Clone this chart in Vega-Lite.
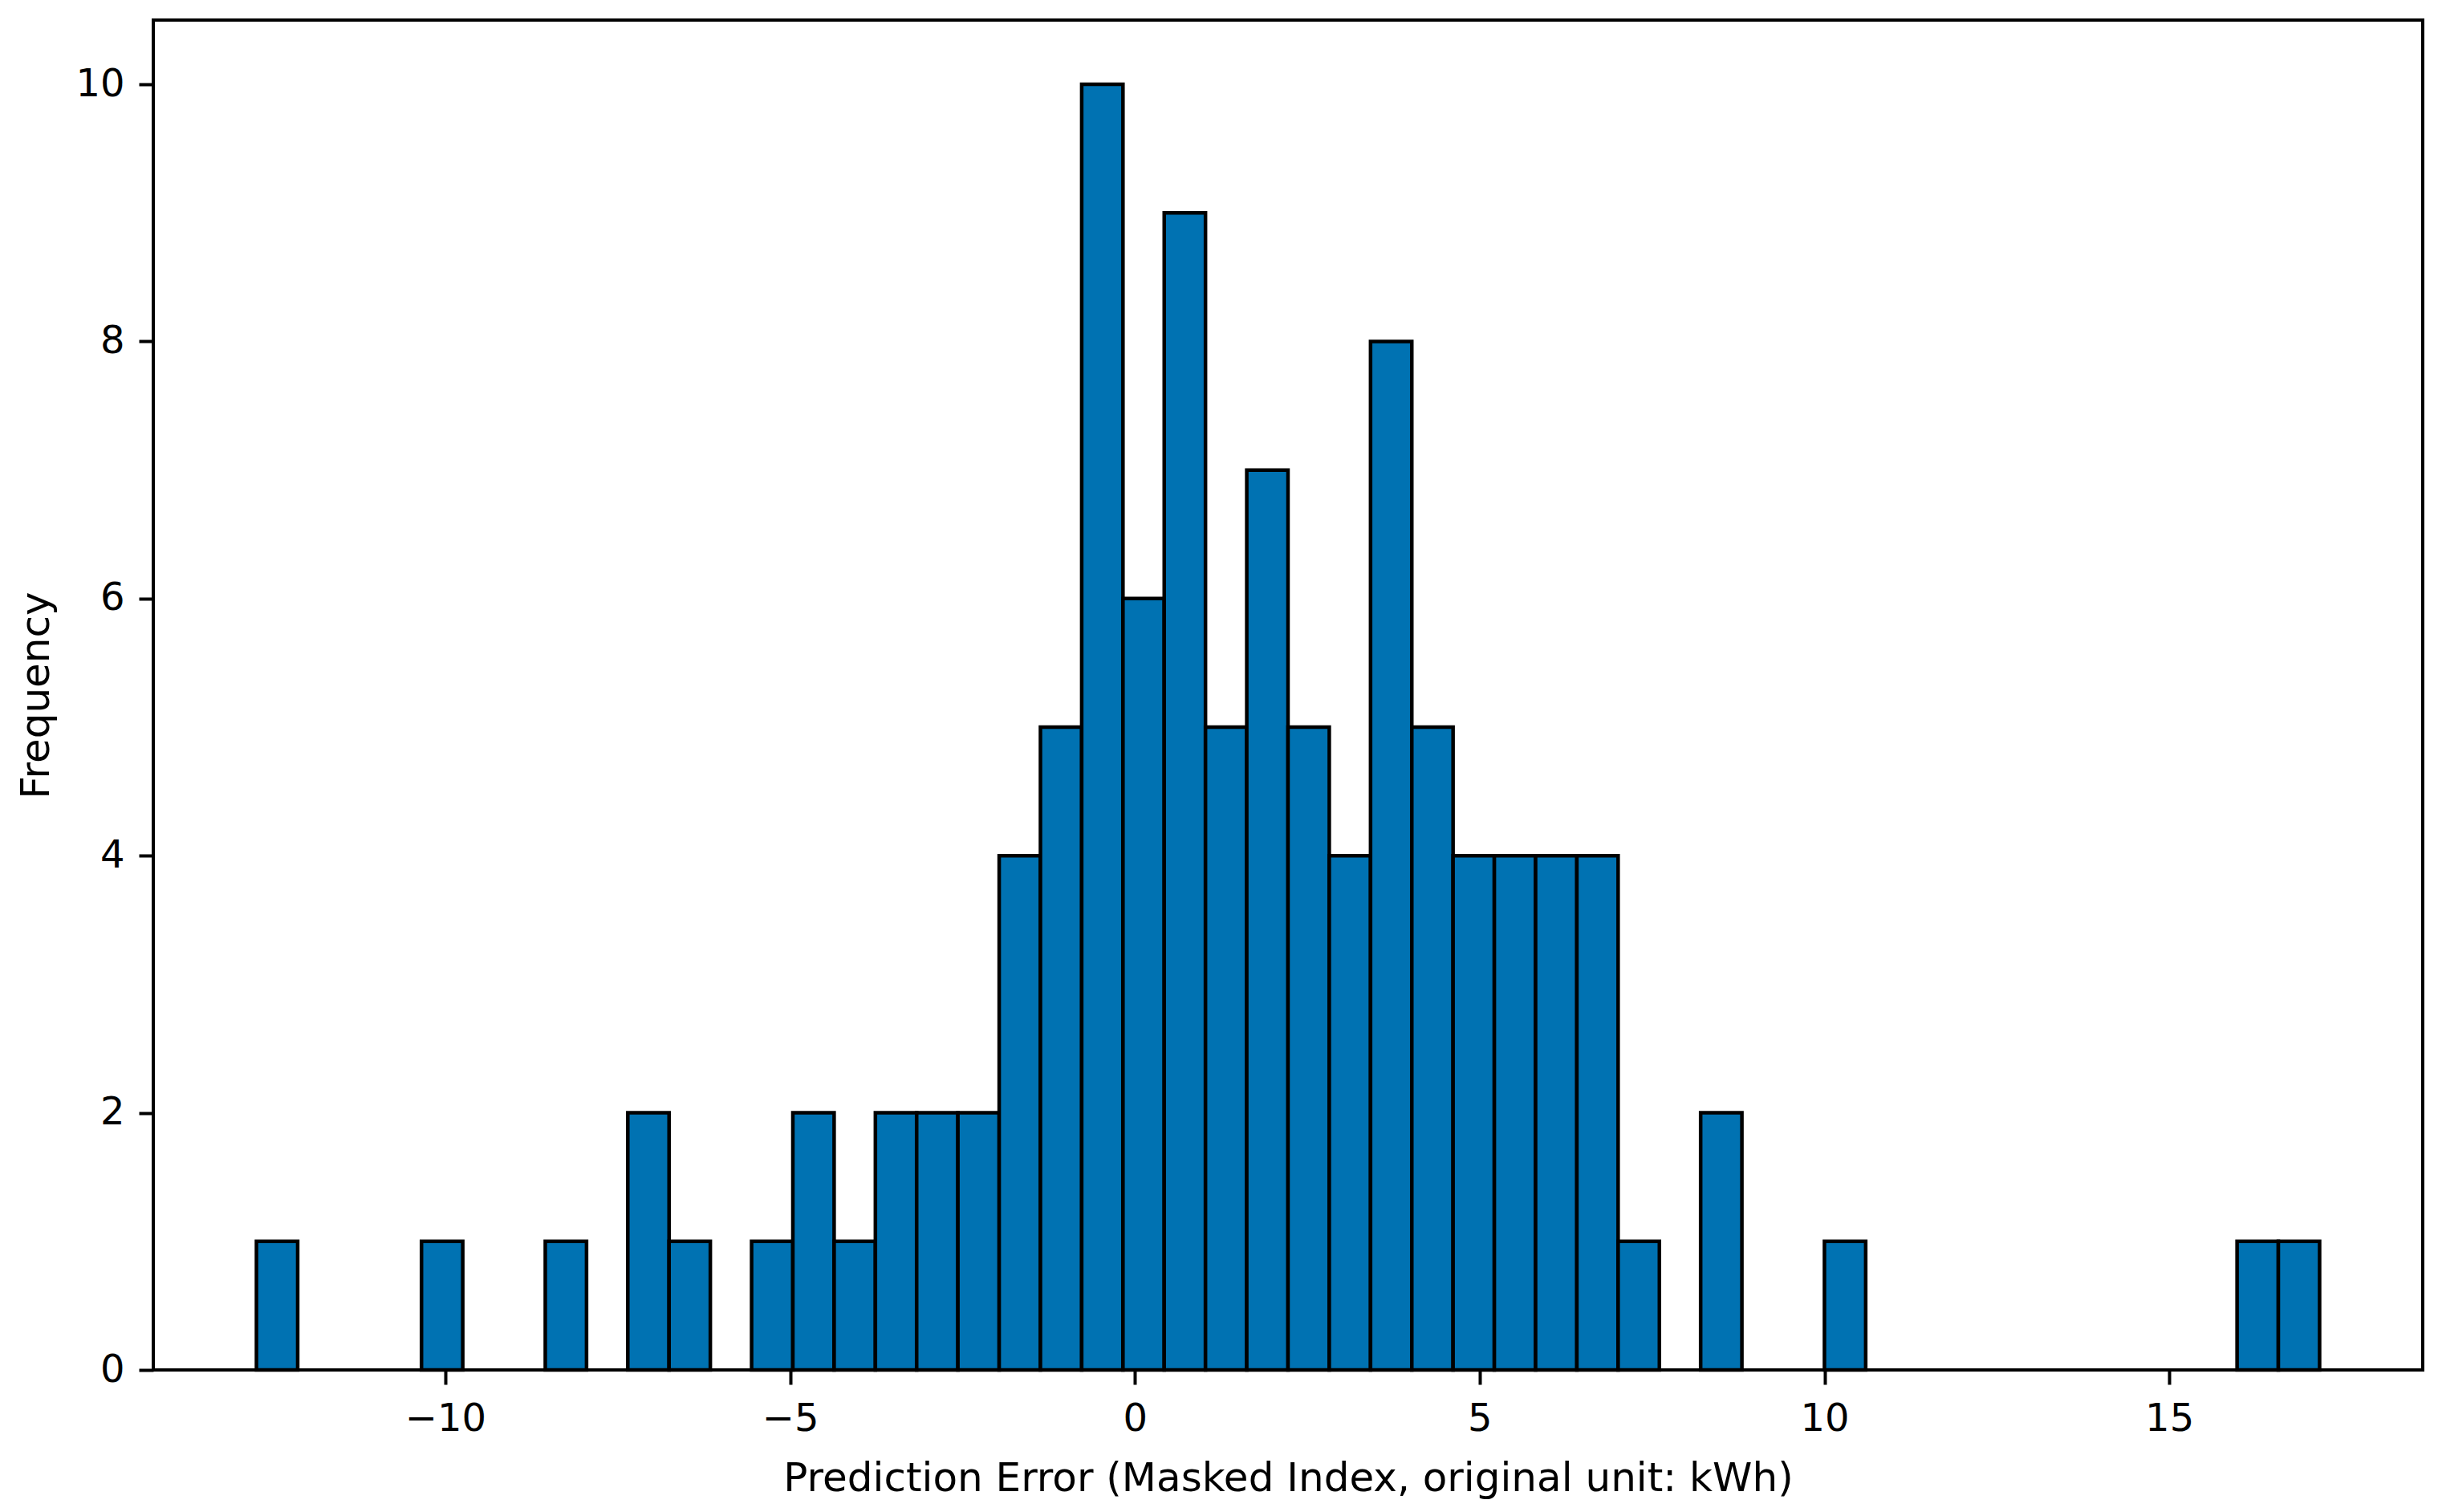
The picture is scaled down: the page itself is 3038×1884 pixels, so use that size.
{
  "$schema": "https://vega.github.io/schema/vega-lite/v6.json",
  "width": 2828,
  "height": 1682,
  "autosize": {"type": "none"},
  "padding": {"left": 191, "top": 25, "right": 19, "bottom": 177},
  "background": "white",
  "config": {
    "view": {"stroke": "black", "strokeWidth": 4, "fill": "white"},
    "font": "DejaVu Sans"
  },
  "data": {
    "values": [
      {"start": -12.74, "end": -12.1416, "count": 1},
      {"start": -10.3464, "end": -9.748, "count": 1},
      {"start": -8.5512, "end": -7.9528, "count": 1},
      {"start": -7.3544, "end": -6.756, "count": 2},
      {"start": -6.756, "end": -6.1576, "count": 1},
      {"start": -5.5592, "end": -4.9608, "count": 1},
      {"start": -4.9608, "end": -4.3624, "count": 2},
      {"start": -4.3624, "end": -3.764, "count": 1},
      {"start": -3.764, "end": -3.1656, "count": 2},
      {"start": -3.1656, "end": -2.5672, "count": 2},
      {"start": -2.5672, "end": -1.9688, "count": 2},
      {"start": -1.9688, "end": -1.3704, "count": 4},
      {"start": -1.3704, "end": -0.772, "count": 5},
      {"start": -0.772, "end": -0.1736, "count": 10},
      {"start": -0.1736, "end": 0.4248, "count": 6},
      {"start": 0.4248, "end": 1.0232, "count": 9},
      {"start": 1.0232, "end": 1.6216, "count": 5},
      {"start": 1.6216, "end": 2.22, "count": 7},
      {"start": 2.22, "end": 2.8184, "count": 5},
      {"start": 2.8184, "end": 3.4168, "count": 4},
      {"start": 3.4168, "end": 4.0152, "count": 8},
      {"start": 4.0152, "end": 4.6136, "count": 5},
      {"start": 4.6136, "end": 5.212, "count": 4},
      {"start": 5.212, "end": 5.8104, "count": 4},
      {"start": 5.8104, "end": 6.4088, "count": 4},
      {"start": 6.4088, "end": 7.0072, "count": 4},
      {"start": 7.0072, "end": 7.6056, "count": 1},
      {"start": 8.204, "end": 8.8024, "count": 2},
      {"start": 9.9992, "end": 10.5976, "count": 1},
      {"start": 15.9832, "end": 16.5816, "count": 1},
      {"start": 16.5816, "end": 17.18, "count": 1}
    ]
  },
  "mark": {"type": "rect", "fill": "#0072B2", "stroke": "black", "strokeWidth": 4.5},
  "encoding": {
    "x": {
      "field": "start",
      "type": "quantitative",
      "scale": {"domain": [-14.236, 18.676], "nice": false, "zero": false},
      "axis": {
        "title": "Prediction Error (Masked Index, original unit: kWh)",
        "values": [-10, -5, 0, 5, 10, 15],
        "labelExpr": "replace(datum.label, '-', '\u2212')",
        "domain": false,
        "grid": false,
        "ticks": true,
        "tickSize": 18,
        "tickWidth": 4,
        "tickColor": "black",
        "labelFontSize": 48,
        "labelColor": "black",
        "labelPadding": 19,
        "labelFlush": false,
        "titleFontSize": 50,
        "titleFontWeight": "normal",
        "titleColor": "black",
        "titleBaseline": "alphabetic",
        "titleY": 150,
        "zindex": 1
      }
    },
    "x2": {"field": "end"},
    "y": {
      "field": "count",
      "type": "quantitative",
      "scale": {"domain": [0, 10.5], "nice": false},
      "axis": {
        "title": "Frequency",
        "values": [0, 2, 4, 6, 8, 10],
        "domain": false,
        "grid": false,
        "tickSize": 18,
        "tickWidth": 4,
        "tickColor": "black",
        "labelFontSize": 48,
        "labelColor": "black",
        "labelPadding": 18,
        "labelFlush": false,
        "titleFontSize": 50,
        "titleFontWeight": "normal",
        "titleColor": "black",
        "titleBaseline": "alphabetic",
        "titleAngle": -90,
        "titleX": -131,
        "titleY": 841,
        "titleAlign": "center",
        "zindex": 1
      }
    },
    "y2": {"datum": 0}
  }
}
